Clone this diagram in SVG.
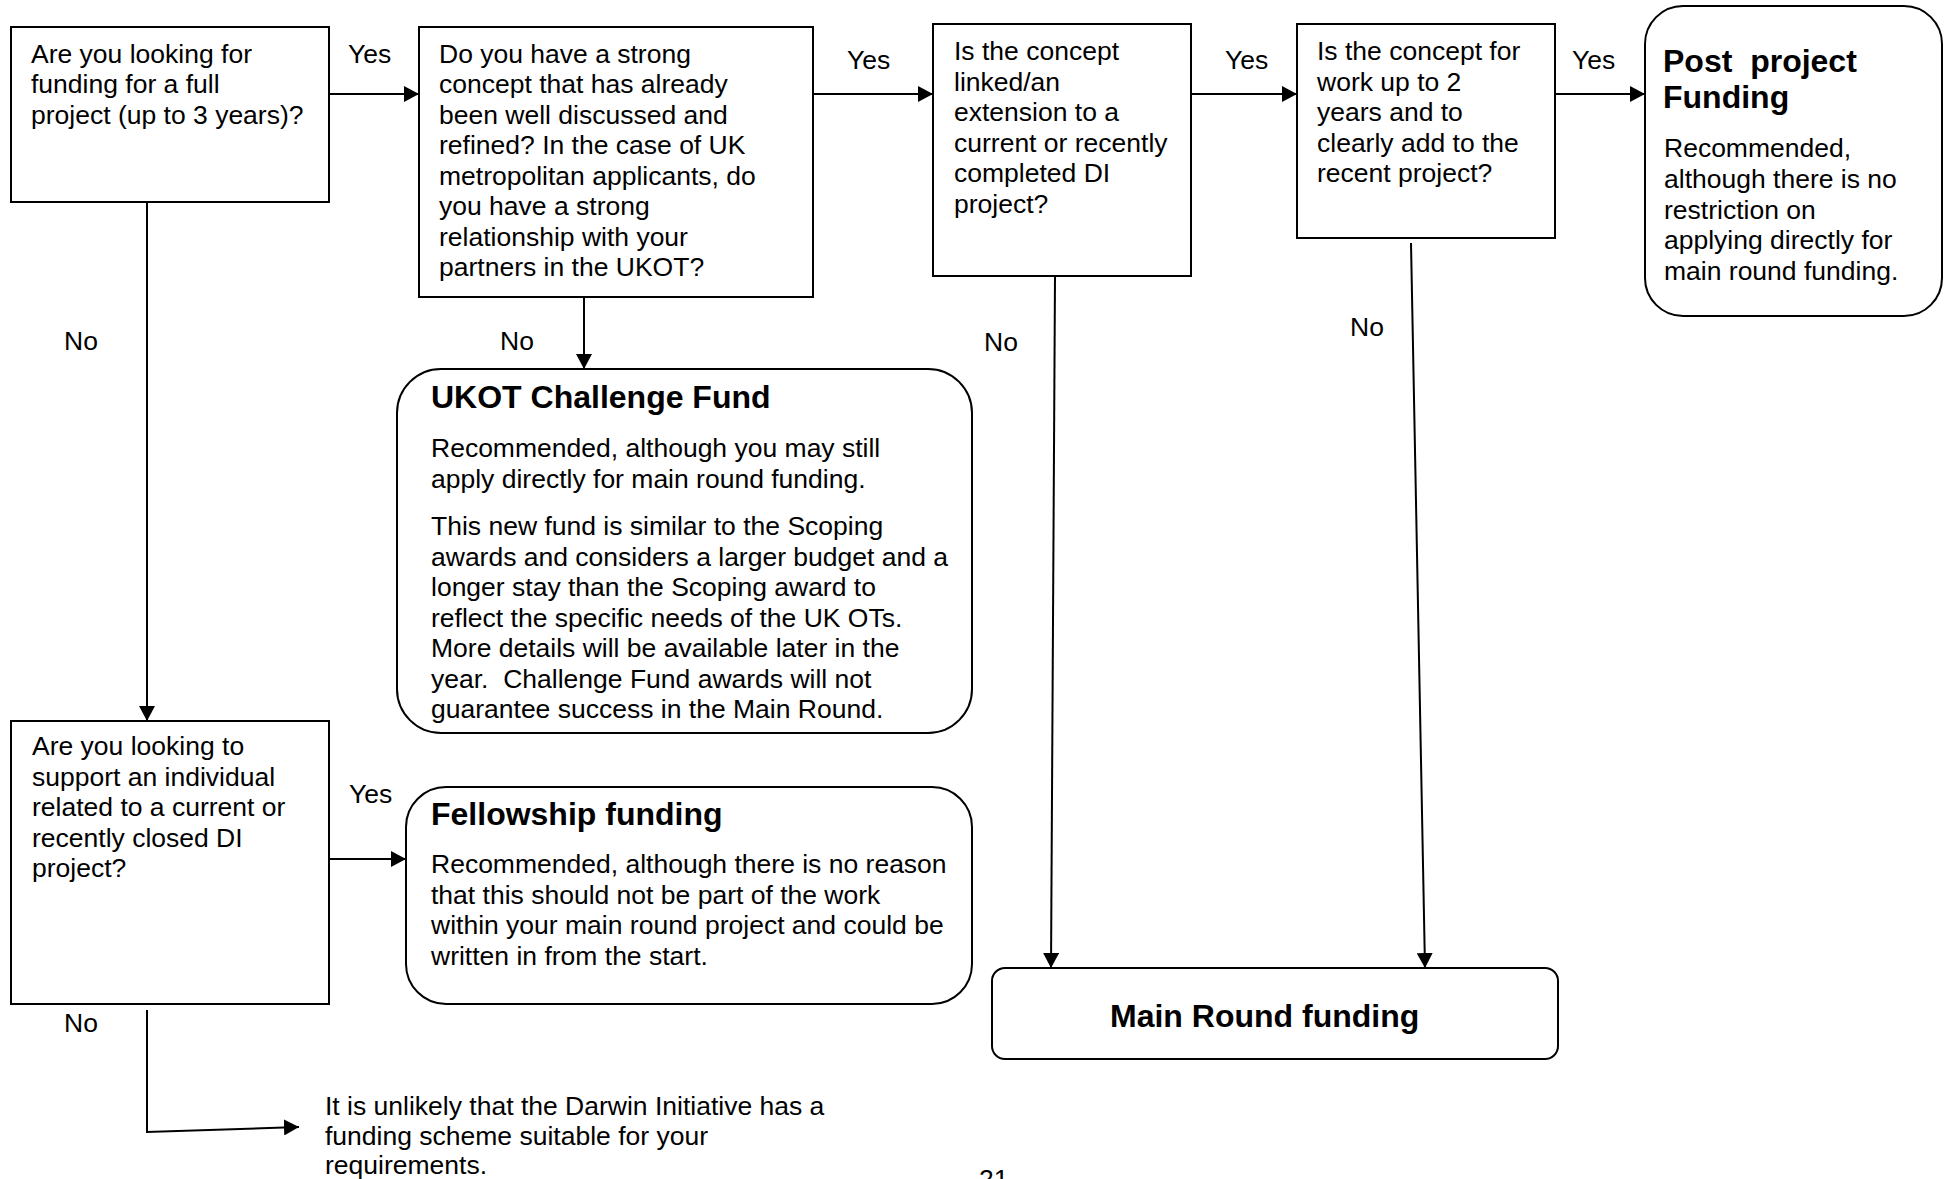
<svg xmlns="http://www.w3.org/2000/svg" width="1944" height="1179" viewBox="0 0 1944 1179">
<style>
  .box { fill: #ffffff; stroke: #000000; stroke-width: 2; }
  .t { font-family: "Liberation Sans", Arial, sans-serif; font-size: 26.5px; fill: #000000; }
  .h { font-family: "Liberation Sans", Arial, sans-serif; font-size: 32px; font-weight: bold; fill: #000000; }
  .c { fill: none; stroke: #000000; stroke-width: 2; }
  .ca { fill: none; stroke: #000000; stroke-width: 2; marker-end: url(#arr); }
</style>
<defs>
  <marker id="arr" markerUnits="userSpaceOnUse" markerWidth="15" markerHeight="16" refX="15" refY="8" orient="auto">
    <path d="M0,0 L15,8 L0,16 z" fill="#000000"/>
  </marker>
</defs>
<rect width="1944" height="1179" fill="#ffffff"/>

<g id="connectors">
  <line class="ca" x1="329" y1="94" x2="419" y2="94"/>
  <line class="ca" x1="813" y1="94" x2="933" y2="94"/>
  <line class="ca" x1="1191" y1="94" x2="1297" y2="94"/>
  <line class="ca" x1="1555" y1="94" x2="1645" y2="94"/>
  <line class="ca" x1="147" y1="202" x2="147" y2="721"/>
  <line class="ca" x1="584" y1="297" x2="584" y2="369"/>
  <line class="ca" x1="1055" y1="276" x2="1051" y2="968"/>
  <line class="ca" x1="1411" y1="243" x2="1425" y2="968"/>
  <line class="ca" x1="329" y1="859" x2="406" y2="859"/>
  <polyline class="ca" points="147,1010 147,1132 299,1127"/>
  <text class="t" x="348" y="63">Yes</text>
  <text class="t" x="847" y="69">Yes</text>
  <text class="t" x="1225" y="69">Yes</text>
  <text class="t" x="1572" y="69">Yes</text>
  <text class="t" x="349" y="803">Yes</text>
  <text class="t" x="64" y="350">No</text>
  <text class="t" x="500" y="350">No</text>
  <text class="t" x="984" y="351">No</text>
  <text class="t" x="1350" y="336">No</text>
  <text class="t" x="64" y="1032">No</text>
</g>

<g id="q1">
  <rect class="box" x="11" y="27" width="318" height="175"/>
  <text class="t"><tspan x="31" y="63">Are you looking for</tspan><tspan x="31" y="93">funding for a full</tspan><tspan x="31" y="123.5">project (up to 3 years)?</tspan></text>
</g>

<g id="q2">
  <rect class="box" x="419" y="27" width="394" height="270"/>
  <text class="t"><tspan x="439" y="63">Do you have a strong</tspan><tspan x="439" y="93">concept that has already</tspan><tspan x="439" y="123.5">been well discussed and</tspan><tspan x="439" y="154">refined? In the case of UK</tspan><tspan x="439" y="184.5">metropolitan applicants, do</tspan><tspan x="439" y="215">you have a strong</tspan><tspan x="439" y="245.5">relationship with your</tspan><tspan x="439" y="276">partners in the UKOT?</tspan></text>
</g>

<g id="q3">
  <rect class="box" x="933" y="24" width="258" height="252"/>
  <text class="t"><tspan x="954" y="60">Is the concept</tspan><tspan x="954" y="90.5">linked/an</tspan><tspan x="954" y="121">extension to a</tspan><tspan x="954" y="151.5">current or recently</tspan><tspan x="954" y="182">completed DI</tspan><tspan x="954" y="212.5">project?</tspan></text>
</g>

<g id="q4">
  <rect class="box" x="1297" y="24" width="258" height="214"/>
  <text class="t"><tspan x="1317" y="60">Is the concept for</tspan><tspan x="1317" y="90.5">work up to 2</tspan><tspan x="1317" y="121">years and to</tspan><tspan x="1317" y="151.5">clearly add to the</tspan><tspan x="1317" y="182">recent project?</tspan></text>
</g>

<g id="post-project">
  <rect class="box" x="1645" y="6" width="297" height="310" rx="38" ry="38"/>
  <text class="h"><tspan x="1663" y="72" xml:space="preserve">Post  project</tspan><tspan x="1663" y="108">Funding</tspan></text>
  <text class="t"><tspan x="1664" y="157">Recommended,</tspan><tspan x="1664" y="188">although there is no</tspan><tspan x="1664" y="218.5">restriction on</tspan><tspan x="1664" y="249">applying directly for</tspan><tspan x="1664" y="279.5">main round funding.</tspan></text>
</g>

<g id="ukot">
  <rect class="box" x="397" y="369" width="575" height="364" rx="44" ry="44"/>
  <text class="h" x="431" y="408">UKOT Challenge Fund</text>
  <text class="t"><tspan x="431" y="457">Recommended, although you may still</tspan><tspan x="431" y="487.5">apply directly for main round funding.</tspan></text>
  <text class="t" xml:space="preserve"><tspan x="431" y="535">This new fund is similar to the Scoping</tspan><tspan x="431" y="565.5">awards and considers a larger budget and a</tspan><tspan x="431" y="596">longer stay than the Scoping award to</tspan><tspan x="431" y="626.5">reflect the specific needs of the UK OTs.</tspan><tspan x="431" y="657">More details will be available later in the</tspan><tspan x="431" y="687.5">year.  Challenge Fund awards will not</tspan><tspan x="431" y="718">guarantee success in the Main Round.</tspan></text>
</g>

<g id="q5">
  <rect class="box" x="11" y="721" width="318" height="283"/>
  <text class="t"><tspan x="32" y="755">Are you looking to</tspan><tspan x="32" y="785.5">support an individual</tspan><tspan x="32" y="816">related to a current or</tspan><tspan x="32" y="846.5">recently closed DI</tspan><tspan x="32" y="877">project?</tspan></text>
</g>

<g id="fellowship">
  <rect class="box" x="406" y="787" width="566" height="217" rx="40" ry="40"/>
  <text class="h" x="431" y="825">Fellowship funding</text>
  <text class="t"><tspan x="431" y="873">Recommended, although there is no reason</tspan><tspan x="431" y="903.5">that this should not be part of the work</tspan><tspan x="431" y="934">within your main round project and could be</tspan><tspan x="431" y="964.5">written in from the start.</tspan></text>
</g>

<g id="main-round">
  <rect class="box" x="992" y="968" width="566" height="91" rx="13" ry="13"/>
  <text class="h" x="1110" y="1027">Main Round funding</text>
</g>

<g id="unlikely">
  <text class="t"><tspan x="325" y="1115">It is unlikely that the Darwin Initiative has a</tspan><tspan x="325" y="1145">funding scheme suitable for your</tspan><tspan x="325" y="1174">requirements.</tspan></text>
</g>

<text class="t" x="979" y="1188">21</text>
</svg>
